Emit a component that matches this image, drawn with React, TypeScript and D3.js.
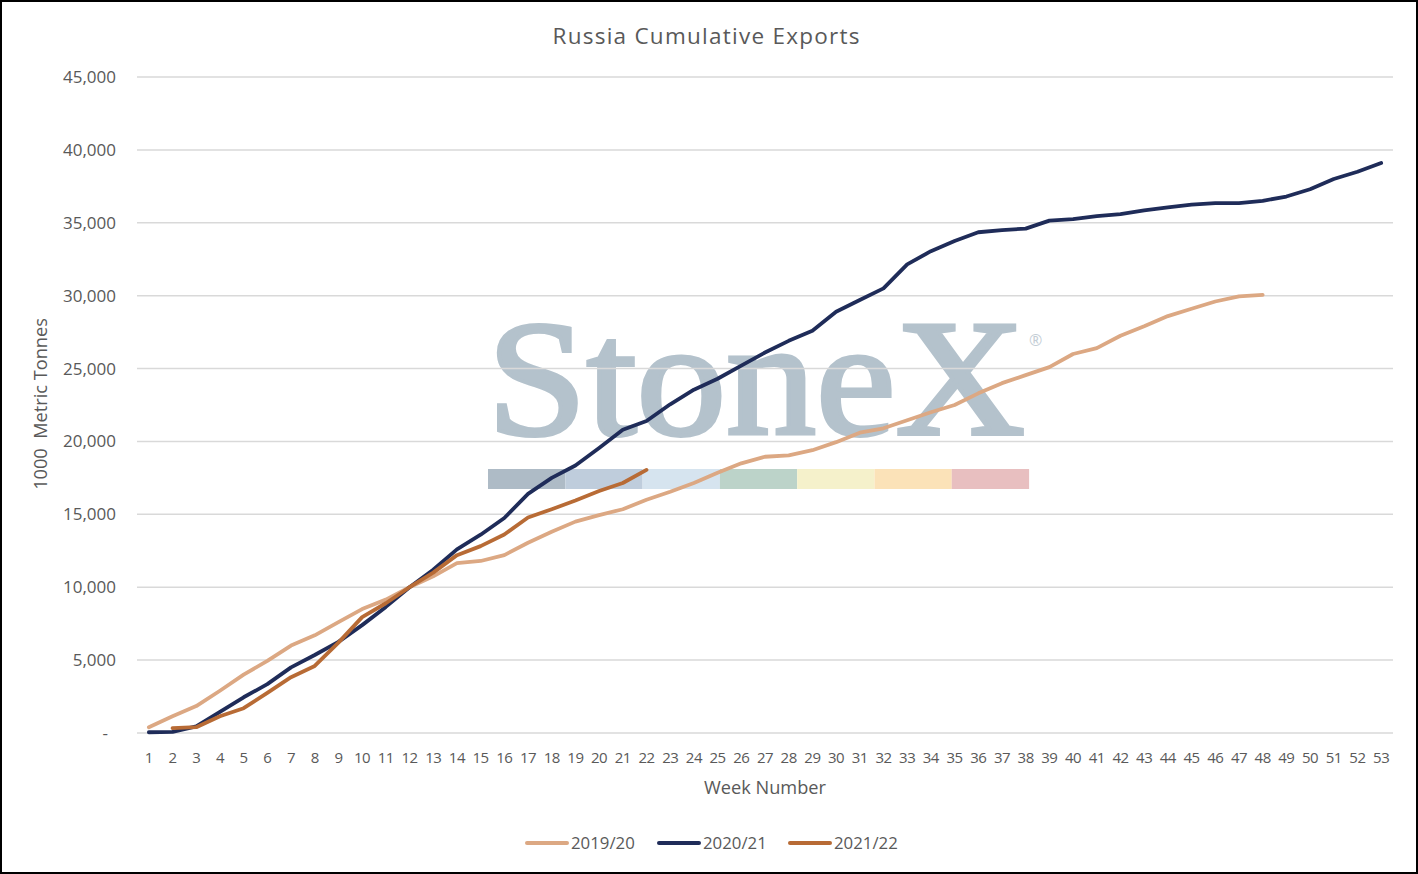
import React from 'react';
import * as d3 from 'd3';

const weeks = d3.range(1, 54);

// cumulative exports, 1000 t (null = no data)
const s2019: (number | null)[] = [
  400, 1150, 1850, 2900, 4000, 4950, 6000, 6700, 7600, 8500,
  9150, 10000, 10750, 11650, 11800, 12200, 13050, 13800, 14500, 14950,
  15350, 16000, 16550, 17150, 17850, 18500, 18950, 19050, 19400, 19950,
  20600, 20900, 21450, 22000, 22500, 23300, 24000, 24550, 25100, 26000,
  26400, 27250, 27900, 28600, 29100, 29600, 29950, 30050, null, null,
  null, null, null,
];
const s2020: (number | null)[] = [
  50, 80, 450, 1450, 2450, 3350, 4500, 5350, 6250, 7400,
  8650, 10000, 11200, 12600, 13600, 14750, 16400, 17500, 18350, 19550,
  20800, 21400, 22550, 23550, 24300, 25200, 26100, 26900, 27600, 28900,
  29700, 30500, 32150, 33050, 33750, 34350, 34500, 34600, 35150, 35250,
  35450, 35600, 35850, 36050, 36250, 36350, 36350, 36500, 36800, 37300,
  38000, 38500, 39100,
];
const s2021: (number | null)[] = [
  null, 330, 400, 1150, 1700, 2750, 3830, 4600, 6200, 7950,
  8900, 10000, 11000, 12200, 12820, 13620, 14780, 15350, 15950, 16600,
  17150, 18050, null, null, null, null, null, null, null, null,
  null, null, null, null, null, null, null, null, null, null,
  null, null, null, null, null, null, null, null, null, null,
  null, null, null,
];

const seriesNames = ['2019/20', '2020/21', '2021/22'];
const seriesColors = ['#dca883', '#1f2c59', '#b86b35'];
const yTicks = [0, 5000, 10000, 15000, 20000, 25000, 30000, 35000, 40000, 45000];
const bandColors = ['#aebbc6', '#bfcddc', '#d6e4ef', '#bcd3c9', '#f5f1cb', '#fbe2b8', '#e8bfc0'];

const W = 1418;
const H = 874;
const font = '"Open Sans", "Noto Sans", sans-serif';
const grey = '#595959';

export default function App() {
  const x = d3.scaleBand<number>().domain(weeks).range([137, 1393]);
  const cx = (w: number) => (x(w) ?? 0) + x.bandwidth() / 2;
  const y = d3.scaleLinear().domain([0, 45000]).range([733, 77]);

  const line = d3
    .line<number | null>()
    .defined((d) => d != null)
    .x((_, i) => cx(weeks[i]))
    .y((d) => y(d as number));

  const series = [s2019, s2020, s2021];
  const fmt = d3.format(',');

  return (
    <svg
      width={W}
      height={H}
      style={{ position: 'absolute', left: 0, top: 0, background: '#fff' }}
      fontFamily={font}
    >
      <rect x={1} y={1} width={W - 2} height={H - 2} fill="#fff" stroke="#000" strokeWidth={2} />

      {/* watermark */}
      <g>
        <text
          x={487}
          y={434}
          fontFamily='"Liberation Serif", "DejaVu Serif", serif'
          fontSize={166}
          textLength={538}
          lengthAdjust="spacingAndGlyphs"
          fill="#b4c2cc"
          stroke="#b4c2cc"
          strokeWidth={4}
        >
          StoneX
        </text>
        <text x={1029} y={346} fontSize={16} fill="#c3cdd5">
          ®
        </text>
        {bandColors.map((c, i) => (
          <rect key={c} x={488 + i * 77.3} y={469} width={77.3} height={20} fill={c} />
        ))}
      </g>

      {/* gridlines */}
      {yTicks.map((t) => (
        <line
          key={t}
          x1={137}
          x2={1393}
          y1={y(t)}
          y2={y(t)}
          stroke="#d9d9d9"
          strokeWidth={1.5}
        />
      ))}

      {/* y tick labels */}
      {yTicks.map((t) => (
        <text
          key={t}
          x={t === 0 ? 108 : 116}
          y={y(t)}
          dy="0.35em"
          textAnchor="end"
          fontSize={17}
          fill={grey}
        >
          {t === 0 ? '-' : fmt(t)}
        </text>
      ))}

      {/* x tick labels */}
      {weeks.map((w) => (
        <text
          key={w}
          x={cx(w)}
          y={763}
          textAnchor="middle"
          fontSize={15}
          letterSpacing={-0.5}
          fill={grey}
        >
          {w}
        </text>
      ))}

      {/* series */}
      {series.map((s, i) => (
        <path
          key={seriesNames[i]}
          d={line(s) ?? ''}
          fill="none"
          stroke={seriesColors[i]}
          strokeWidth={3.8}
          strokeLinejoin="round"
          strokeLinecap="round"
        />
      ))}

      {/* title & axis titles */}
      <text
        x={706}
        y={44}
        textAnchor="middle"
        fontSize={22.5}
        textLength={307}
        fill={grey}
      >
        Russia Cumulative Exports
      </text>
      <text x={765} y={794} textAnchor="middle" fontSize={18.2} fill={grey}>
        Week Number
      </text>
      <text
        transform="translate(47,404) rotate(-90)"
        textAnchor="middle"
        fontSize={18.2}
        fill={grey}
        style={{ whiteSpace: 'pre' }}
      >
        1000  Metric Tonnes
      </text>

      {/* legend */}
      {seriesNames.map((n, i) => {
        const lx = [525, 657, 788][i];
        return (
          <g key={n}>
            <line
              x1={lx + 2}
              x2={lx + 42}
              y1={843}
              y2={843}
              stroke={seriesColors[i]}
              strokeWidth={4}
              strokeLinecap="round"
            />
            <text x={lx + 46} y={849} fontSize={16.8} fill={grey}>
              {n}
            </text>
          </g>
        );
      })}
    </svg>
  );
}
